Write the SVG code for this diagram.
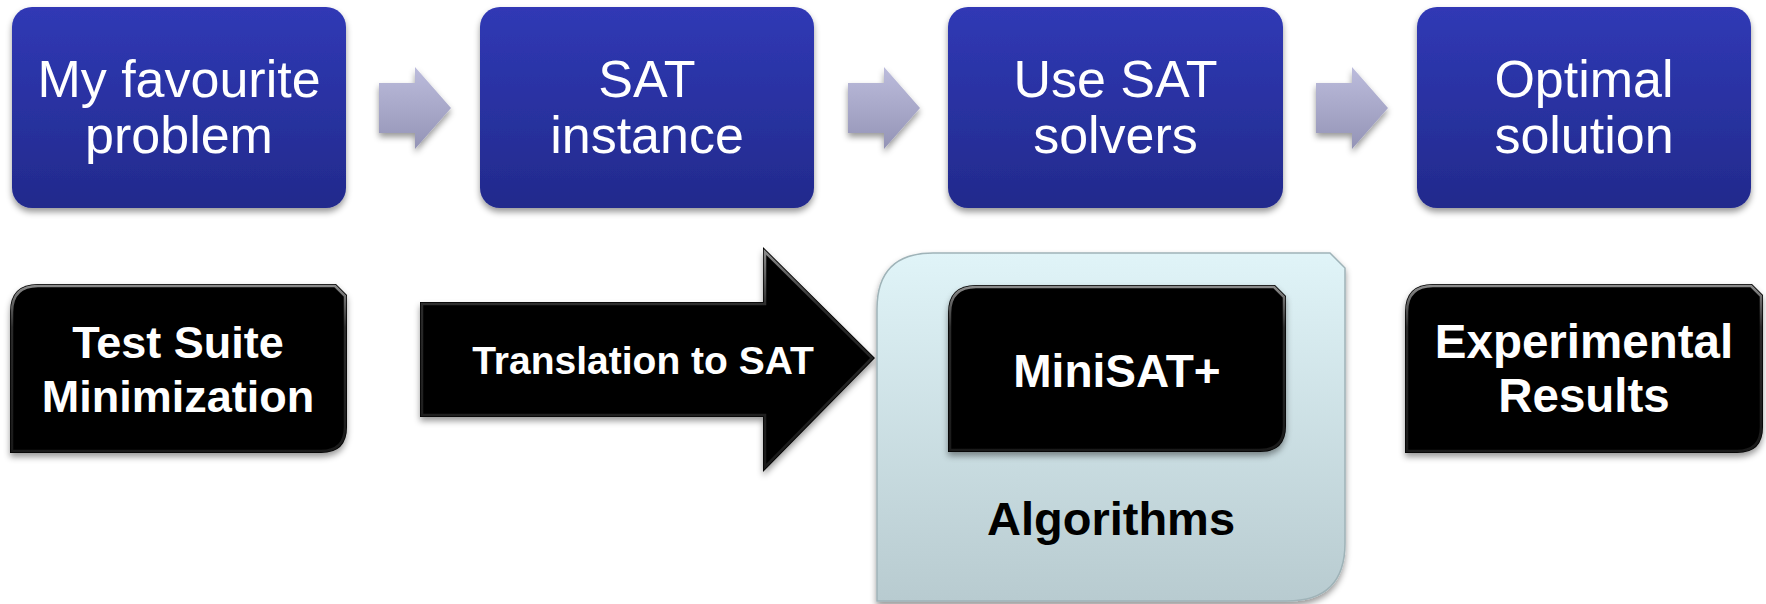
<svg xmlns="http://www.w3.org/2000/svg" width="1766" height="604" viewBox="0 0 1766 604">
<defs>
<linearGradient id="blue" x1="0" y1="0" x2="0" y2="1">
<stop offset="0" stop-color="#3039b5"/>
<stop offset="1" stop-color="#222a8c"/>
</linearGradient>
<linearGradient id="lav" x1="0" y1="0" x2="0" y2="1">
<stop offset="0" stop-color="#bcbcdc"/>
<stop offset="1" stop-color="#9494b6"/>
</linearGradient>
<linearGradient id="cyan" x1="0" y1="0" x2="0" y2="1">
<stop offset="0" stop-color="#e0f4f8"/>
<stop offset="1" stop-color="#b8cbd0"/>
</linearGradient>
<linearGradient id="bevel" x1="0" y1="0" x2="0" y2="1">
<stop offset="0" stop-color="#8a8a8a"/>
<stop offset="0.25" stop-color="#2a2a2a"/>
<stop offset="1" stop-color="#1a1a1a"/>
</linearGradient>
<filter id="sh" x="-10%" y="-10%" width="120%" height="130%">
<feDropShadow dx="0" dy="4" stdDeviation="3" flood-color="#000" flood-opacity="0.4"/>
</filter>
</defs>
<style>
.top{fill:url(#blue);filter:url(#sh)}
.arr{fill:url(#lav);filter:url(#sh)}
.blk{fill:#000;filter:url(#sh)}
.bev{fill:none;stroke:url(#bevel);stroke-width:2.5}
.tw{font-family:"Liberation Sans",Arial,sans-serif;font-size:52px;fill:#fff;text-anchor:middle}
.tb{font-family:"Liberation Sans",Arial,sans-serif;font-weight:bold;font-size:45px;fill:#fff;text-anchor:middle}
</style>

<g id="connectors">
<path class="arr" d="M379,83 L415,83 L415,67 L451,108 L415,149 L415,133 L379,133 Z"/>
<path class="arr" d="M848,83 L884,83 L884,67 L920,108 L884,149 L884,133 L848,133 Z"/>
<path class="arr" d="M1316,83 L1352,83 L1352,67 L1388,108 L1352,149 L1352,133 L1316,133 Z"/>
</g>

<g id="n-problem">
<rect class="top" x="12" y="7" width="334" height="201" rx="20"/>
<text class="tw" x="179" y="97">My favourite</text>
<text class="tw" x="179" y="153">problem</text>
</g>
<g id="n-instance">
<rect class="top" x="480" y="7" width="334" height="201" rx="20"/>
<text class="tw" x="647" y="97">SAT</text>
<text class="tw" x="647" y="153">instance</text>
</g>
<g id="n-solvers">
<rect class="top" x="948" y="7" width="335" height="201" rx="20"/>
<text class="tw" x="1115.5" y="97">Use SAT</text>
<text class="tw" x="1115.5" y="153">solvers</text>
</g>
<g id="n-optimal">
<rect class="top" x="1417" y="7" width="334" height="201" rx="20"/>
<text class="tw" x="1584" y="97">Optimal</text>
<text class="tw" x="1584" y="153">solution</text>
</g>

<g id="n-testsuite">
<path class="blk" d="M10,453 L10,312 Q10,284 38,284 L336,284 L347,295 L347,427 Q347,453 321,453 Z"/>
<path class="bev" d="M12,451 L12,312 Q12,286 38,286 L335,286 L345,296 L345,427 Q345,451 321,451 Z"/>
<text class="tb" x="178" y="358">Test Suite</text>
<text class="tb" x="178" y="412">Minimization</text>
</g>

<g id="n-translation">
<path class="blk" d="M420,302 L763,302 L763,247 L875,358 L763,472 L763,417 L420,417 Z"/>
<path class="bev" d="M422,304 L765,304 L765,252 L872,358 L765,467 L765,415 L422,415 Z"/>
<text class="tb" x="643" y="374" style="font-size:39px">Translation to SAT</text>
</g>

<g id="n-algorithms">
<path d="M877,601 L877,309 Q877,253 933,253 L1330,253 L1345,268 L1345,543 Q1345,601 1287,601 Z" fill="url(#cyan)" stroke="#9fb3b8" stroke-width="1.5" filter="url(#sh)"/>
<text class="tb" x="1111" y="535" style="fill:#000;font-size:47px">Algorithms</text>
</g>

<g id="n-minisat">
<path class="blk" d="M948,452 L948,313 Q948,285 976,285 L1275,285 L1286,296 L1286,426 Q1286,452 1260,452 Z"/>
<path class="bev" d="M950,450 L950,313 Q950,287 976,287 L1274,287 L1284,297 L1284,426 Q1284,450 1260,450 Z"/>
<text class="tb" x="1117" y="387" style="font-size:46px">MiniSAT+</text>
</g>

<g id="n-results">
<path class="blk" d="M1405,453 L1405,312 Q1405,284 1433,284 L1752,284 L1763,295 L1763,427 Q1763,453 1737,453 Z"/>
<path class="bev" d="M1407,451 L1407,312 Q1407,286 1433,286 L1751,286 L1761,296 L1761,427 Q1761,451 1737,451 Z"/>
<text class="tb" x="1584" y="358" style="font-size:47.5px">Experimental</text>
<text class="tb" x="1584" y="412" style="font-size:47.5px">Results</text>
</g>
</svg>
